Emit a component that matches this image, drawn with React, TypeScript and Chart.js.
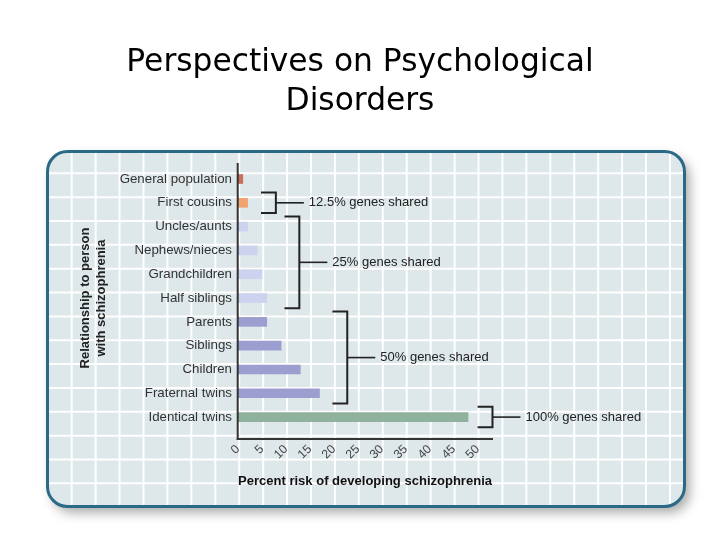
import React, { useEffect, useRef } from "react";
import { Chart, registerables } from "chart.js";

Chart.register(...registerables);

// ---- data ----
const categories = [
  "General population",
  "First cousins",
  "Uncles/aunts",
  "Nephews/nieces",
  "Grandchildren",
  "Half siblings",
  "Parents",
  "Siblings",
  "Children",
  "Fraternal twins",
  "Identical twins",
];
const riskValues = [1, 2, 2, 4, 5, 6, 6, 9, 13, 17, 48];
const xTickValues = [0, 5, 10, 15, 20, 25, 30, 35, 40, 45, 50];
const chartTitle = ["Perspectives on Psychological", "Disorders"];
const yAxisTitle = ["Relationship to person", "with schizophrenia"];
const xAxisTitle = "Percent risk of developing schizophrenia";
const groupLabels = ["12.5% genes shared", "25% genes shared", "50% genes shared", "100% genes shared"];
const groupFirstIndex = [1, 2, 6, 10];
const groupLastIndex = [1, 5, 9, 10];

// ---- styles / annotation geometry (data units on x) ----
const BAR_COLORS = [
  "#c9705d",
  "#f1a46f",
  "#cdd3ee",
  "#cdd3ee",
  "#cdd3ee",
  "#cdd3ee",
  "#9d9ed0",
  "#9d9ed0",
  "#9d9ed0",
  "#9d9ed0",
  "#8fb29c",
];
const BRACKET_START = [4.8, 9.7, 19.7, 50];
const BRACKET_SPINE = [7.9, 12.8, 22.8, 53.1];
const LABEL_FONT = "Liberation Sans, Arial, sans-serif";

const backgroundPlugin = {
  id: "frameBackground",
  beforeDraw(chart: any) {
    const ctx = chart.ctx;
    const x = 47.5, y = 151.5, w = 637, h = 355, r = 20;

    // slide title
    ctx.save();
    ctx.fillStyle = "#000000";
    ctx.font = "normal 31.3px 'DejaVu Sans', sans-serif";
    ctx.textAlign = "center";
    ctx.textBaseline = "alphabetic";
    ctx.fillText(chartTitle[0], 360, 71);
    ctx.fillText(chartTitle[1], 360, 110);
    ctx.restore();

    // shadow + fill
    ctx.save();
    ctx.shadowColor = "rgba(0,0,0,0.35)";
    ctx.shadowBlur = 12;
    ctx.shadowOffsetX = 5;
    ctx.shadowOffsetY = 6;
    ctx.beginPath();
    ctx.roundRect(x, y, w, h, r);
    ctx.fillStyle = "#dee8eb";
    ctx.fill();
    ctx.restore();

    // background grid
    ctx.save();
    ctx.beginPath();
    ctx.roundRect(x, y, w, h, r);
    ctx.clip();
    ctx.strokeStyle = "rgba(255,255,255,0.95)";
    ctx.lineWidth = 2;
    for (let k = 0; k <= 25; k++) {
      const gx = 71.7 + 23.93 * k;
      ctx.beginPath();
      ctx.moveTo(gx, y);
      ctx.lineTo(gx, y + h);
      ctx.stroke();
    }
    for (let k = 0; k <= 13; k++) {
      const gy = 173.3 + 23.85 * k;
      ctx.beginPath();
      ctx.moveTo(x, gy);
      ctx.lineTo(x + w, gy);
      ctx.stroke();
    }
    ctx.restore();

    // border
    ctx.save();
    ctx.beginPath();
    ctx.roundRect(x, y, w, h, r);
    ctx.strokeStyle = "#2a6a86";
    ctx.lineWidth = 3;
    ctx.stroke();
    ctx.restore();
  },
};

const annotationPlugin = {
  id: "axesAndBrackets",
  afterDraw(chart: any) {
    const ctx = chart.ctx;
    const xs = chart.scales.x;
    const ys = chart.scales.y;
    const area = chart.chartArea;
    ctx.save();
    // axis lines
    ctx.strokeStyle = "#333333";
    ctx.lineWidth = 2;
    const x0 = xs.getPixelForValue(0) - 0.3;
    ctx.beginPath();
    ctx.moveTo(x0, area.top - 4);
    ctx.lineTo(x0, area.bottom + 11);
    ctx.stroke();
    ctx.beginPath();
    ctx.moveTo(x0 - 1, area.bottom + 10);
    ctx.lineTo(area.right + 1, area.bottom + 10);
    ctx.stroke();

    // brackets
    const band = (ys.getPixelForValue(1) - ys.getPixelForValue(0)) * 0.43;
    ctx.strokeStyle = "#222222";
    ctx.fillStyle = "#222222";
    ctx.font = `13px ${LABEL_FONT}`;
    ctx.textBaseline = "middle";
    ctx.textAlign = "left";
    for (let g = 0; g < groupLabels.length; g++) {
      const top = ys.getPixelForValue(groupFirstIndex[g]) - band;
      const bottom = ys.getPixelForValue(groupLastIndex[g]) + band;
      const left = xs.getPixelForValue(BRACKET_START[g]);
      const spine = xs.getPixelForValue(BRACKET_SPINE[g]);
      const mid = (top + bottom) / 2;
      ctx.lineWidth = 2;
      ctx.beginPath();
      ctx.moveTo(left, top);
      ctx.lineTo(spine, top);
      ctx.lineTo(spine, bottom);
      ctx.lineTo(left, bottom);
      ctx.stroke();
      ctx.lineWidth = 1.6;
      ctx.beginPath();
      ctx.moveTo(spine, mid);
      ctx.lineTo(spine + 28, mid);
      ctx.stroke();
      ctx.fillText(groupLabels[g], spine + 33, mid);
    }
    ctx.restore();
  },
};

export default function App() {
  const canvasRef = useRef<HTMLCanvasElement | null>(null);

  useEffect(() => {
    const canvas = canvasRef.current;
    if (!canvas) return;
    const chart = new Chart(canvas, {
      type: "bar",
      data: {
        labels: categories,
        datasets: [
          {
            data: riskValues,
            backgroundColor: BAR_COLORS,
            barThickness: 9,
            borderWidth: 0,
          },
        ],
      },
      options: {
        indexAxis: "y",
        animation: false,
        responsive: false,
        events: [],
        layout: { padding: { left: 76.6, right: 228, top: 167.1, bottom: 51 } },
        plugins: {
          legend: { display: false },
          tooltip: { enabled: false },
          title: { display: false },
        },
        scales: {
          x: {
            type: "linear",
            min: 0,
            max: 53,
            grid: { display: false, drawTicks: false },
            border: { display: false },
            afterBuildTicks: (scale: any) => {
              scale.ticks = xTickValues.map((v) => ({ value: v }));
            },
            afterFit: (scale: any) => {
              scale.height = 60;
            },
            ticks: {
              autoSkip: false,
              minRotation: 45,
              maxRotation: 45,
              padding: 13,
              color: "#444444",
              font: { family: LABEL_FONT, size: 12.3 },
            },
            title: {
              display: true,
              text: xAxisTitle,
              color: "#111111",
              font: { family: LABEL_FONT, size: 13.4, weight: "bold", lineHeight: 1.2 },
              padding: { top: 0, bottom: 0 },
            },
          },
          y: {
            type: "category",
            offset: true,
            grid: { display: false, drawTicks: false },
            border: { display: false },
            afterFit: (scale: any) => {
              scale.width = 238 - 76.6;
            },
            ticks: {
              padding: 6,
              color: "#333333",
              font: { family: LABEL_FONT, size: 13.3 },
            },
            title: {
              display: true,
              text: yAxisTitle,
              color: "#222222",
              font: { family: LABEL_FONT, size: 13, weight: "bold", lineHeight: 16.7 / 13 },
              padding: { top: 0, bottom: 0 },
            },
          },
        },
      },
      plugins: [backgroundPlugin, annotationPlugin],
    } as any);
    return () => chart.destroy();
  }, []);

  return (
    <div style={{ position: "fixed", left: 0, top: 0, width: 720, height: 540, background: "#ffffff" }}>
      <canvas ref={canvasRef} width={720} height={540} style={{ width: 720, height: 540, display: "block" }} />
    </div>
  );
}
